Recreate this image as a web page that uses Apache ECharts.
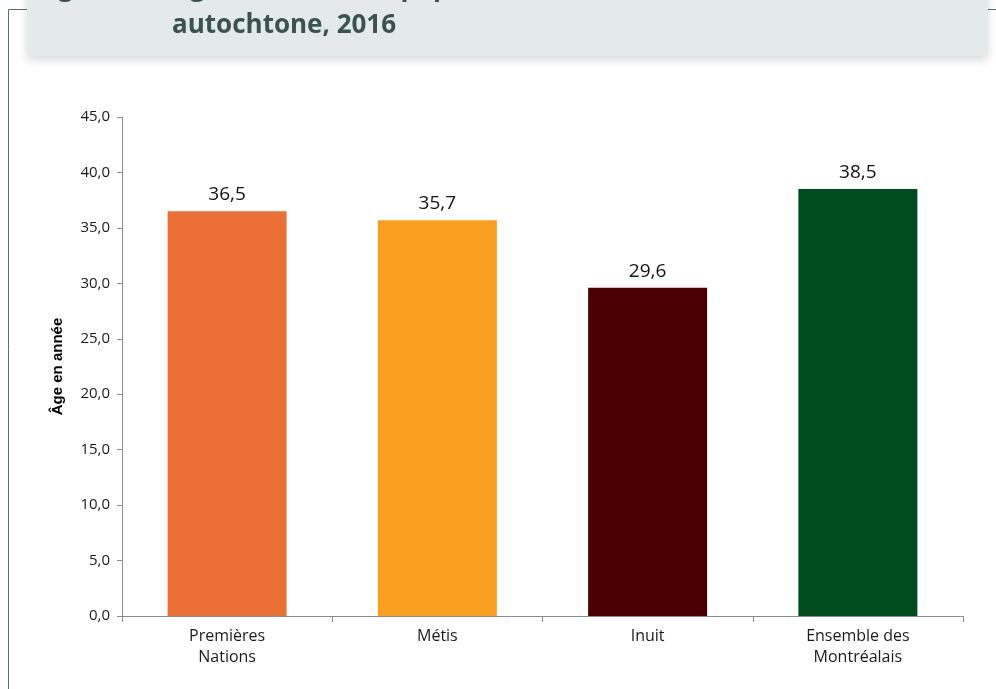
<!DOCTYPE html>
<html>
<head>
<meta charset="utf-8">
<script src="https://cdn.jsdelivr.net/npm/echarts@6/dist/echarts.min.js"></script>
<style>
html,body{margin:0;padding:0;background:#fff;}
#c{width:996px;height:689px;}
</style>
</head>
<body>
<div id="c"></div>
<script>
const categories = ['Premières\nNations', 'Métis', 'Inuit', 'Ensemble des\nMontréalais'];
const medianAge = [36.5, 35.7, 29.6, 38.5];
const barColors = ['#E96F34', '#F89F1F', '#4A0000', '#004C1E'];
const yTickLabels = ['0,0', '5,0', '10,0', '15,0', '20,0', '25,0', '30,0', '35,0', '40,0', '45,0'];
const titleLine1a = 'Figure 2';
const titleLine1b = 'Âge médian de la population';
const titleLine2 = 'autochtone, 2016';
const yAxisName = 'Âge en année';

const chart = echarts.init(document.getElementById('c'), null, {renderer: 'canvas'});
const fmt = v => v.toFixed(1).replace('.', ',');

chart.setOption({
  animation: false,
  backgroundColor: '#ffffff',
  graphic: [
    {type: 'rect', z: 0, silent: true, shape: {x: 8.5, y: 9.5, width: 1000, height: 700},
     style: {fill: 'none', stroke: '#5c6f6f', lineWidth: 1}},
    {type: 'rect', z: 1, silent: true, shape: {x: 27, y: -20, width: 961, height: 76, r: 2},
     style: {fill: '#e4eaea', shadowBlur: 10, shadowOffsetY: 4, shadowColor: 'rgba(0,0,0,0.15)'}},
    {type: 'text', z: 2, silent: true, x: 36, y: -11,
     style: {text: titleLine1a, font: 'bold 26px "Open Sans", sans-serif', fill: '#3b5253', verticalAlign: 'middle'}},
    {type: 'text', z: 2, silent: true, x: 172, y: -11,
     style: {text: titleLine1b, font: 'bold 26px "Open Sans", sans-serif', fill: '#3b5253', verticalAlign: 'middle'}},
    {type: 'text', z: 2, silent: true, x: 172, y: 26,
     style: {text: titleLine2, font: 'bold 26px "Open Sans", sans-serif', fill: '#3b5253', verticalAlign: 'middle'}}
  ],
  grid: {left: 122, right: 33, top: 117, bottom: 73, containLabel: false},
  xAxis: {
    type: 'category',
    data: categories,
    axisLine: {lineStyle: {color: '#8c8c8c', width: 1}},
    axisTick: {show: true, alignWithLabel: false, length: 6, lineStyle: {color: '#8c8c8c'}},
    axisLabel: {color: '#1a1a1a', fontSize: 16, fontFamily: '"Open Sans", sans-serif', margin: 10, lineHeight: 21, interval: 0}
  },
  yAxis: {
    type: 'value',
    min: 0, max: 45, interval: 5,
    name: yAxisName,
    nameLocation: 'middle',
    nameGap: 57,
    nameTextStyle: {fontWeight: 'bold', fontSize: 15, color: '#000', fontFamily: '"Liberation Sans", Arial, sans-serif'},
    axisLine: {show: true, lineStyle: {color: '#8c8c8c', width: 1}},
    axisTick: {show: true, length: 5, lineStyle: {color: '#8c8c8c'}},
    splitLine: {show: false},
    axisLabel: {color: '#1a1a1a', fontSize: 15, fontFamily: '"Open Sans", sans-serif', margin: 12,
      formatter: (v, i) => yTickLabels[i] !== undefined ? yTickLabels[i] : fmt(v)}
  },
  series: [{
    type: 'bar',
    data: medianAge.map((v, i) => ({value: v, itemStyle: {color: barColors[i]}})),
    barWidth: 119,
    label: {show: true, position: 'top', distance: 7, color: '#111', fontSize: 19,
      fontFamily: '"Open Sans", sans-serif', formatter: p => fmt(p.value)}
  }]
});
</script>
</body>
</html>
